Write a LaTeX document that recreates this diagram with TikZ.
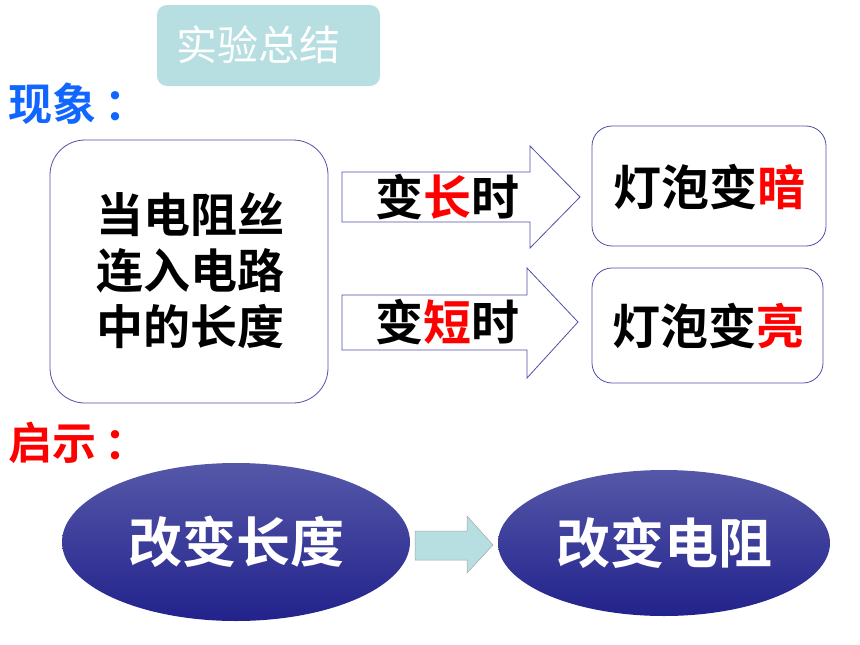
\documentclass[tikz,border=0pt]{standalone}
\usepackage{fontspec}
\setmainfont{Noto Sans CJK SC}
\newfontfamily\cjkb{Noto Sans CJK SC Bold}
\usetikzlibrary{shapes.geometric}
\definecolor{teal1}{HTML}{B7DEE0}
\definecolor{bordB}{HTML}{4F4FA8}
\definecolor{blueT}{HTML}{1166FF}
\definecolor{redT}{HTML}{FF0000}
\definecolor{ellTop}{HTML}{5558A8}
\definecolor{ellBot}{HTML}{22228C}
\tikzset{
  fz/.style={font=\cjkb\fontsize{#1}{#1}\selectfont},
  rbox/.style={draw=bordB, line width=0.8pt, fill=white},
  arr/.style={draw=bordB, line width=0.8pt, fill=white},
  ell/.style={ellipse, top color=ellTop, bottom color=ellBot, draw=none, text=white},
}
\begin{document}
\begin{tikzpicture}[x=1pt,y=-1pt]
\useasboundingbox (0,0) rectangle (860,645);
% title
\fill[teal1, rounded corners=10pt] (157,5) rectangle (380,86);
\node[font=\fontsize{41}{41}\selectfont, text=white] (title) at (258,45) {实验总结};
% headings
\node[anchor=west, fz=44, text=blueT, inner sep=0pt] (xx) at (8,104) {现象\hspace{0.2em}：};
\node[anchor=west, fz=44, text=redT, inner sep=0pt] (qs) at (8,443) {启示\hspace{0.2em}：};
% left box
\draw[rbox, rounded corners=35pt] (50,140) rectangle (328,403);
\node[font=\cjkb\fontsize{47}{56}\selectfont, align=center, inner sep=0pt] (lbox) at (190,271) {当电阻丝\\连入电路\\中的长度};
% arrows
\draw[arr] (342,172) -- (530,172) -- (530,146) -- (580,197) -- (530,248) -- (530,222) -- (342,222) -- cycle;
\node[fz=48, inner sep=0pt] (a1) at (447,197) {变\textcolor{redT}{长}时};
\draw[arr] (342,295) -- (527,295) -- (527,268) -- (578,322) -- (527,378) -- (527,350) -- (342,350) -- cycle;
\node[fz=48, inner sep=0pt] (a2) at (447,322) {变\textcolor{redT}{短}时};
% right boxes
\draw[rbox, rounded corners=20pt] (592,126) rectangle (826,246);
\node[fz=48, inner sep=0pt] (r1) at (709,187) {灯泡变\textcolor{redT}{暗}};
\draw[rbox, rounded corners=20pt] (592,268) rectangle (823,383);
\node[fz=48, inner sep=0pt] (r2) at (708,326) {灯泡变\textcolor{redT}{亮}};
% ellipses
\node[ell, minimum width=348pt, minimum height=158pt, fz=54] (e1) at (236,542) {改变长度};
\node[ell, minimum width=332pt, minimum height=146pt, fz=54] (e2) at (664,543) {改变电阻};
% small arrow
\draw[fill=teal1, draw=gray!70, line width=0.5pt] (415,531) -- (467,531) -- (467,516) -- (493,545) -- (467,573) -- (467,560) -- (415,560) -- cycle;
\end{tikzpicture}
\end{document}
